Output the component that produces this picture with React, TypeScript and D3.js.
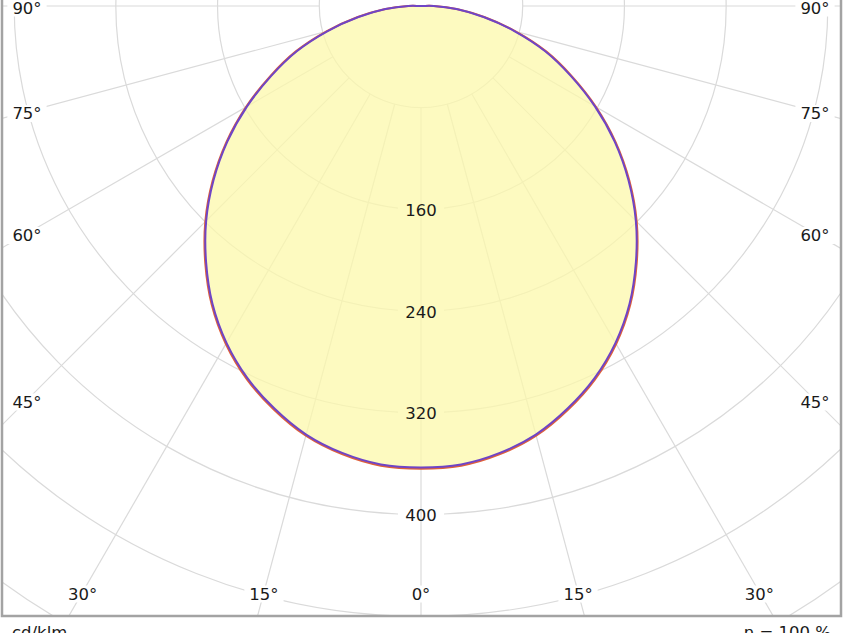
import React, { useEffect, useRef } from 'react';
import * as d3 from 'd3';

// luminous intensity (cd/klm) every 5 degrees, gamma 0..90
const GAMMA = [0, 5, 10, 15, 20, 25, 30, 35, 40, 45, 50, 55, 60, 65, 70, 75, 80, 85, 90];
const C0_C180 = [364, 363, 358, 350, 338, 324, 307, 287, 264, 240, 214, 187, 159, 131, 105, 77, 51, 29, 10];
const C90_C270 = [363, 362, 357, 349, 337, 323, 306, 286, 263, 239, 213, 186, 158, 130, 104, 76, 50, 28, 10];

const RING_VALUES = [80, 160, 240, 320, 400, 480, 560, 640];
const RING_LABELS = [160, 240, 320, 400];
const SPOKE_ANGLES = [-90, -75, -60, -45, -30, -15, 0, 15, 30, 45, 60, 75, 90];

const UNIT_LABEL = 'cd/klm';
const EFFICIENCY_LABEL = 'η = 100 %';

const FONT = '"DejaVu Sans", Verdana, sans-serif';

const App: React.FC = () => {
  const svgRef = useRef<SVGSVGElement>(null);

  useEffect(() => {
    if (!svgRef.current) return;
    const svg = d3.select(svgRef.current);
    svg.selectAll('*').remove();

    const width = 844;
    const height = 633;
    const cx = 421;
    const cy = 6;
    const frame = { left: 2, right: 841, bottom: 616 };

    const r = d3.scaleLinear().domain([0, 80]).range([0, 101.7]);
    const rad = (deg: number) => (deg * Math.PI) / 180;

    svg.append('rect').attr('width', width).attr('height', height).attr('fill', '#fff');

    svg
      .append('defs')
      .append('clipPath')
      .attr('id', 'plot-clip')
      .append('rect')
      .attr('x', frame.left)
      .attr('y', -20)
      .attr('width', frame.right - frame.left)
      .attr('height', frame.bottom + 20);

    const plot = svg.append('g').attr('clip-path', 'url(#plot-clip)');
    const grid = plot.append('g').attr('fill', 'none').attr('stroke', '#dadada').attr('stroke-width', 1.2);

    // rings, with a gap where the value label sits
    RING_VALUES.forEach((v) => {
      const rr = r(v);
      const p = d3.path();
      if (RING_LABELS.includes(v)) {
        const g = 23 / rr;
        p.arc(cx, cy, rr, Math.PI / 2 + g, Math.PI / 2 - g + 2 * Math.PI);
      } else {
        p.arc(cx, cy, rr, 0, 2 * Math.PI);
      }
      grid.append('path').attr('d', p.toString());
    });

    // spokes start at the first ring
    SPOKE_ANGLES.forEach((a) => {
      const s = Math.sin(rad(a));
      const c = Math.cos(rad(a));
      const r0 = r(80);
      const r1 = 1400;
      grid
        .append('line')
        .attr('x1', cx + r0 * s)
        .attr('y1', cy + r0 * c)
        .attr('x2', cx + r1 * s)
        .attr('y2', cy + r1 * c);
    });

    // curves: angle for lineRadial (0 = up, clockwise)
    const buildPoints = (vals: number[]) => {
      const right = GAMMA.map((g, i) => ({ a: Math.PI - rad(g), v: vals[i] })).reverse();
      const left = GAMMA.map((g, i) => ({ a: Math.PI + rad(g), v: vals[i] }));
      return [{ a: 0, v: 0 }, ...right, ...left.slice(1)];
    };

    const line = d3
      .lineRadial<{ a: number; v: number }>()
      .angle((d) => d.a)
      .radius((d) => r(d.v))
      .curve(d3.curveCatmullRomClosed.alpha(0.5));

    const curves = plot.append('g').attr('transform', `translate(${cx},${cy})`);

    curves
      .append('path')
      .attr('d', line(buildPoints(C0_C180)))
      .attr('fill', '#fcf8ab')
      .attr('fill-opacity', 0.75)
      .attr('stroke', 'none');

    curves
      .append('path')
      .attr('d', line(buildPoints(C0_C180)))
      .attr('fill', 'none')
      .attr('stroke', '#e0603a')
      .attr('stroke-width', 2);

    curves
      .append('path')
      .attr('d', line(buildPoints(C90_C270)))
      .attr('fill', 'none')
      .attr('stroke', '#6f45c6')
      .attr('stroke-width', 2);

    // ring value labels
    plot
      .selectAll('text.ring')
      .data(RING_LABELS)
      .enter()
      .append('text')
      .attr('class', 'ring')
      .attr('x', cx)
      .attr('y', (d) => cy + r(d) + 1)
      .attr('text-anchor', 'middle')
      .attr('dominant-baseline', 'central')
      .attr('font-family', FONT)
      .attr('font-size', 16.5)
      .attr('fill', '#1a1a1a')
      .text((d) => d);

    // angle labels on an inset rectangle
    const inset = { x: 394, y: 586 };
    SPOKE_ANGLES.forEach((a) => {
      const s = Math.abs(Math.sin(rad(a)));
      const c = Math.cos(rad(a));
      const tSide = s > 1e-6 ? inset.x / s : Infinity;
      const tBot = c > 1e-6 ? inset.y / c : Infinity;
      const t = Math.min(tSide, tBot);
      const x = cx + Math.sign(a) * t * s;
      const y = cy + t * c + 2;
      const g = plot.append('g');
      const bg = g.append('rect').attr('fill', '#fff');
      const txt = g
        .append('text')
        .attr('x', x)
        .attr('y', y)
        .attr('text-anchor', 'middle')
        .attr('dominant-baseline', 'central')
        .attr('font-family', FONT)
        .attr('font-size', 16.5)
        .attr('fill', '#1a1a1a')
        .text(`${Math.abs(a)}°`);
      const bb = (txt.node() as SVGTextElement).getBBox();
      bg.attr('x', bb.x - 5)
        .attr('y', bb.y + 1)
        .attr('width', bb.width + 10)
        .attr('height', bb.height - 2);
    });

    // frame
    svg
      .append('path')
      .attr('d', `M${frame.left},-5V${frame.bottom}H${frame.right}V-5`)
      .attr('fill', 'none')
      .attr('stroke', '#a3a3a3')
      .attr('stroke-width', 2.5);

    // footer texts, partly below the visible area as in the source image
    svg
      .append('text')
      .attr('x', 12)
      .attr('y', 638)
      .attr('font-family', FONT)
      .attr('font-size', 16.5)
      .attr('fill', '#1a1a1a')
      .text(UNIT_LABEL);

    svg
      .append('text')
      .attr('x', 831)
      .attr('y', 638)
      .attr('text-anchor', 'end')
      .attr('font-family', FONT)
      .attr('font-size', 16.5)
      .attr('fill', '#1a1a1a')
      .text(EFFICIENCY_LABEL);
  }, []);

  return (
    <svg
      ref={svgRef}
      width={844}
      height={633}
      style={{ position: 'absolute', left: 0, top: 0, display: 'block' }}
    />
  );
};

export default App;
